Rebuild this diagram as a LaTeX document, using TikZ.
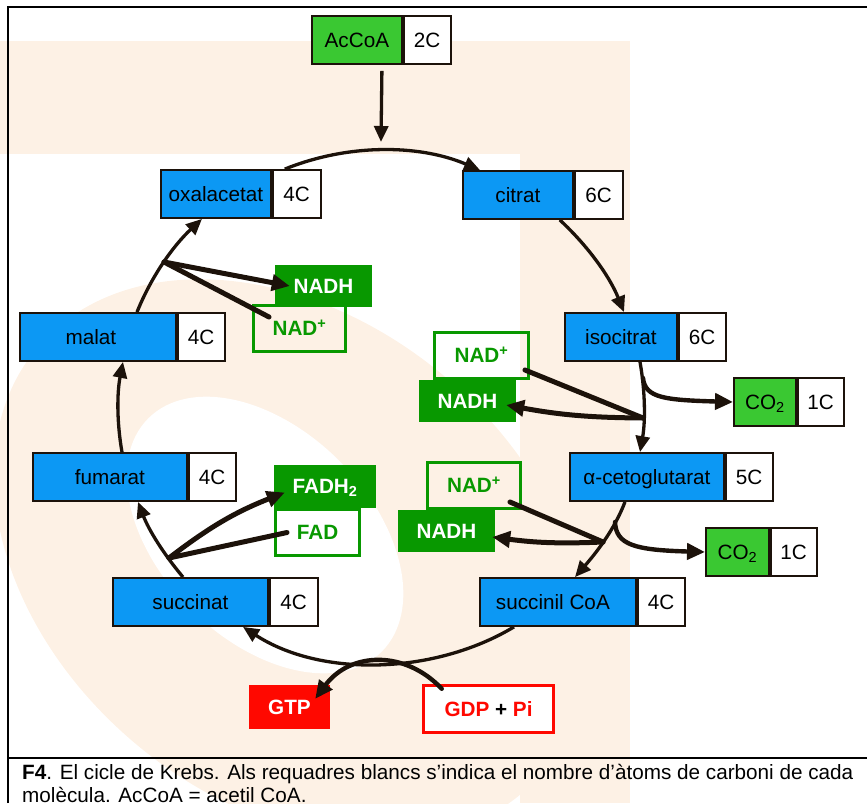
\documentclass[tikz,border=0pt]{standalone}
\usepackage{fontspec}
\setmainfont{Liberation Sans}
\usetikzlibrary{arrows.meta}

\definecolor{molblue}{RGB}{12,152,244}
\definecolor{srcgreen}{RGB}{58,200,50}
\definecolor{cofgreen}{RGB}{8,152,0}
\definecolor{gtpred}{RGB}{255,8,0}
\definecolor{ink}{RGB}{28,18,10}
\definecolor{peach}{RGB}{253,241,229}

\begin{document}
\begin{tikzpicture}[
    x=1pt, y=1pt,
    font=\fontsize{20.7}{23}\selectfont,
    molbox/.style={draw=ink, line width=1.8pt, inner sep=0pt, minimum height=48pt,
      text height=14.5pt, text depth=0pt, anchor=west},
    mol/.style={molbox, fill=molblue},
    src/.style={molbox, fill=srcgreen},
    cnum/.style={molbox, fill=white, minimum width=47pt},
    cof/.style={inner sep=0pt, font=\fontsize{20.7}{23}\selectfont\bfseries,
      text height=14.5pt, text depth=0pt},
    redx/.style={cof, fill=cofgreen, text=white, minimum height=42pt},
    oxd/.style={cof, draw=cofgreen, line width=3pt, text=cofgreen, minimum height=46pt},
    cyc/.style={-{Triangle[length=16pt,width=14pt]}, draw=ink, line width=3.3pt, looseness=0.88},
    link/.style={draw=ink, line width=5pt, line cap=round},
    linkto/.style={link, -{Triangle[length=18pt,width=16pt]}},
  ]
  \useasboundingbox (0,0) rectangle (867,-803);

  %% ---- faint logo behind the figure --------------------------------------
  \fill[peach] (0,-41) rectangle (630,-154);
  \fill[peach] (520,-154) rectangle (630,-803);
  \fill[peach, rotate around={-40:(290,-560)}] (290,-560) ellipse[x radius=330, y radius=240];
  \fill[white, rotate around={-45:(265,-535)}] (265,-535) ellipse[x radius=165, y radius=105];

  %% ---- frame and caption rule ---------------------------------------------
  \draw[line width=2.2pt] (8,-803) -- (8,-7) -- (867,-7);
  \draw[line width=2.2pt] (8,-758) -- (867,-758);

  %% ---- molecules of the cycle ---------------------------------------------
  \node[src, minimum width=90pt] (acc) at (311,-40) {AcCoA};
  \node[cnum] (acc-c) at (acc.east) {2C};
  \node[mol, minimum width=110pt] (oxa) at (160,-194) {oxalacetat};
  \node[cnum, minimum width=48pt] (oxa-c) at (oxa.east) {4C};
  \node[mol, minimum width=110pt] (cit) at (462,-195) {citrat};
  \node[cnum, minimum width=48pt] (cit-c) at (cit.east) {6C};
  \node[mol, minimum width=112pt] (iso) at (564,-337) {isocitrat};
  \node[cnum] (iso-c) at (iso.east) {6C};
  \node[mol, minimum width=156pt] (mal) at (19,-337) {malat\hspace*{14pt}};
  \node[cnum] (mal-c) at (mal.east) {4C};
  \node[mol, minimum width=154pt] (fum) at (32,-477) {fumarat};
  \node[cnum] (fum-c) at (fum.east) {4C};
  \node[mol, minimum width=154pt] (akg) at (569,-477) {α-cetoglutarat};
  \node[cnum] (akg-c) at (akg.east) {5C};
  \node[mol, minimum width=155pt] (suc) at (112,-602) {succinat};
  \node[cnum, minimum width=48pt] (suc-c) at (suc.east) {4C};
  \node[mol, minimum width=156pt] (sca) at (479,-602) {succinil CoA\hspace*{10pt}};
  \node[cnum] (sca-c) at (sca.east) {4C};
  \node[src, minimum width=62pt] (co2a) at (733,-402) {CO\textsubscript{2}};
  \node[cnum, minimum width=46pt] (co2a-c) at (co2a.east) {1C};
  \node[src, minimum width=63pt] (co2b) at (705,-552) {CO\textsubscript{2}};
  \node[cnum, minimum width=46pt] (co2b-c) at (co2b.east) {1C};

  %% ---- cofactors ------------------------------------------------------------
  \node[redx, minimum width=97pt] (nadh1) at (323.5,-286) {NADH};
  \node[oxd, minimum width=92pt] (nadp1) at (299.5,-328.5) {NAD\textsuperscript{+}};
  \node[oxd, minimum width=94pt] (nadp2) at (481.5,-355.5) {NAD\textsuperscript{+}};
  \node[redx, minimum width=97pt] (nadh2) at (467.5,-401) {NADH};
  \node[redx, minimum width=102pt, minimum height=43pt] (fadh) at (325,-486.5) {FADH\textsubscript{2}};
  \node[oxd, minimum width=84pt] (fad) at (317.5,-532.5) {FAD};
  \node[oxd, minimum width=93pt] (nadp3) at (474,-485.5) {NAD\textsuperscript{+}};
  \node[redx, minimum width=97pt] (nadh3) at (446.5,-531) {NADH};
  \node[cof, fill=gtpred, text=white, minimum width=81pt, minimum height=44pt] (gtp) at (289.5,-707) {GTP};
  \node[cof, draw=gtpred, fill=white, line width=3.5pt, minimum width=130pt, minimum height=47pt]
    (gdp) at (488.5,-709) {\textcolor{gtpred}{GDP} + \textcolor{gtpred}{Pi}};

  %% ---- the cycle ------------------------------------------------------------
  \coordinate (entry) at (381,-142);
  \draw[cyc] ([xshift=25pt,yshift=-6pt]acc.south) -- (entry);
  \draw[cyc] ([xshift=13pt]oxa-c.north west) to[out=22, in=157] ([xshift=18pt]cit.north west);
  \draw[cyc] ([xshift=-14pt]cit.south east) to[out=-43, in=112] ([xshift=60pt]iso.north west);
  \draw[cyc] ([xshift=76pt]iso.south west) to[out=-80, in=80] ([xshift=71pt]akg.north west);
  \draw[cyc] ([xshift=56pt]akg.south west) to[out=-111, in=49] ([xshift=96pt]sca.north west);
  \draw[cyc] ([xshift=35pt]sca.south west) to[out=-149, in=-33] ([xshift=131pt]suc.south west);
  \draw[cyc] ([xshift=71pt]suc.north west) to[out=130, in=-69] ([xshift=106pt]fum.south west);
  \draw[cyc] ([xshift=90pt]fum.north west) to[out=100, in=-101] ([xshift=104pt]mal.south west);
  \draw[cyc] ([xshift=118pt]mal.north west) to[out=68, in=-137] ([xshift=42pt]oxa.south west);

  %% ---- side reactions ---------------------------------------------------------
  \coordinate (j1) at (164,-262);
  \coordinate (j2) at (643,-418);
  \coordinate (j4) at (603,-542);
  \coordinate (j5) at (169,-558);
  \coordinate (b1) at (643,-378);
  \coordinate (b2) at (615,-522);

  \draw[link] ([xshift=17pt,yshift=-13pt]nadp1.north west) -- (j1);
  \draw[linkto] (j1) -- ([xshift=15pt]nadh1.west);
  \draw[link] ([xshift=-5pt,yshift=10pt]nadp2.south east) -- (j2);
  \draw[linkto] (j2) to[bend left=5] ([xshift=-10pt,yshift=-4pt]nadh2.east);
  \draw[link] ([xshift=-12pt,yshift=8pt]nadp3.south east) -- (j4);
  \draw[linkto] (j4) to[bend left=5] ([xshift=-3pt,yshift=-6pt]nadh3.east);
  \draw[link] ([xshift=13pt]fad.west) -- (j5);
  \draw[linkto] (j5) to[bend left=8] ([xshift=11pt,yshift=-6pt]fadh.west);

  \draw[linkto, line width=4.4pt] (b1) .. controls +(2,-20) and +(-68,2) .. (co2a.west);
  \draw[linkto, line width=4.4pt] (b2) .. controls +(1,-23) and +(-70,2) .. (co2b.west);
  \draw[linkto, line width=4.4pt] ([xshift=20pt,yshift=-5pt]gdp.north west)
    .. controls +(-37,39) and +(35,47) .. ([xshift=-15pt,yshift=-14pt]gtp.north east);

  %% ---- caption ----------------------------------------------------------------
  \node[anchor=north west, inner sep=0pt, align=left] (cap) at (22,-764)
    {\textbf{F4}. El cicle de Krebs. Als requadres blancs s’indica el nombre d’àtoms de carboni de cada\\
     molècula. AcCoA = acetil CoA.};
\end{tikzpicture}
\end{document}
